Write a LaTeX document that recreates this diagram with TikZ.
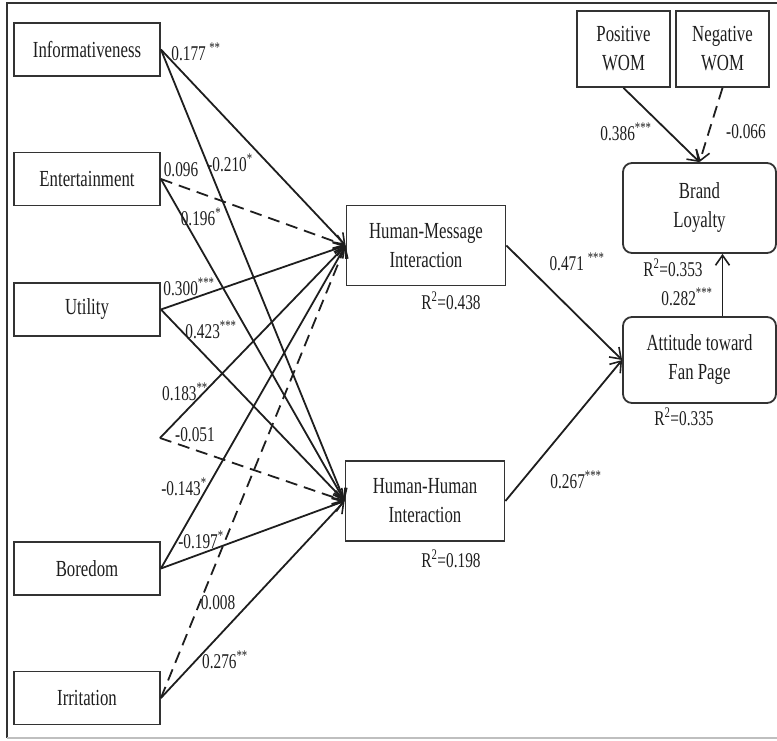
\documentclass[tikz,border=0pt]{standalone}
\usepackage{fontspec}
\setmainfont{Liberation Serif}[FakeStretch=0.73]
\usetikzlibrary{arrows.meta}
\definecolor{ink}{HTML}{1E1E1E}
\definecolor{rim}{HTML}{333333}
\tikzset{
  box/.style={draw=rim, line width=1.8pt, inner sep=0pt, align=center, text=ink,
    font=\fontsize{23}{29}\selectfont},
  srcbox/.style={box, minimum width=146pt, minimum height=53pt},
  midbox/.style={box, minimum width=159pt, minimum height=80pt},
  outbox/.style={box, rounded corners=9pt, minimum width=153pt},
  womb/.style={box, minimum width=93pt, minimum height=76pt},
  path/.style={draw=ink, line width=1.8pt, -{Straight Barb[length=10pt,width=14pt,line width=1.6pt]}},
  nspath/.style={path, dash pattern=on 12pt off 7pt},
  coef/.style={inner sep=0pt, text=ink, font=\fontsize{21}{25}\selectfont},
}
\begin{document}
\begin{tikzpicture}[x=1pt, y=-1pt]
  \useasboundingbox (0,0) rectangle (777,741);
  % frame
  \draw[rim, line width=1.3pt] (777,3) -- (7,3) -- (7,738);
  \draw[black!25, line width=1.3pt] (7,738) -- (777,738);

  % antecedents
  \node[srcbox] (inf) at (87,49.5) {Informativeness};
  \node[srcbox] (ent) at (87,179) {Entertainment};
  \node[srcbox] (uti) at (87,309.5) {Utility};
  \node[srcbox] (bor) at (87,568.5) {Boredom};
  \node[srcbox] (irr) at (87,698) {Irritation};
  \coordinate (kink) at (160,438);

  % mediators
  \node[midbox] (hm) at (426,245.5) {Human-Message\\Interaction};
  \node[midbox] (hh) at (425,501) {Human-Human\\Interaction};

  % outcomes
  \node[outbox, minimum height=90pt] (bl) at (699.5,208) {Brand\\Loyalty};
  \node[outbox, minimum height=86pt] (att) at (699.5,360) {Attitude toward\\Fan Page};
  \node[womb] (pw) at (623.5,49) {Positive\\WOM};
  \node[womb] (nw) at (722.5,49) {Negative\\WOM};

  % paths into Human-Message Interaction
  \draw[path]   (inf.east) -- (hm.west);
  \draw[nspath] (ent.east) -- (hm.west);
  \draw[path]   (uti.east) -- (hm.west);
  \draw[path]   (kink) -- (hm.west);
  \draw[path]   (bor.east) -- (hm.west);
  \draw[nspath] (irr.east) -- (hm.west);

  % paths into Human-Human Interaction
  \draw[path]   (inf.east) -- (hh.west);
  \draw[path]   (ent.east) -- (hh.west);
  \draw[path]   (uti.east) -- (hh.west);
  \draw[nspath] (kink) -- (hh.west);
  \draw[path]   (bor.east) -- (hh.west);
  \draw[path]   (irr.east) -- (hh.west);

  % downstream paths
  \draw[path] (hm.east) -- (att.west);
  \draw[path] (hh.east) -- (att.west);
  \draw[path] (att.north -| nw.south) -- (bl.south -| nw.south);
  \draw[path] (pw.south) -- (bl.north);
  \draw[nspath] (nw.south) -- (bl.north);

  % coefficients
  \node[coef] (c1)  at (196,52)  {0.177\,\textsuperscript{**}};
  \node[coef] (c2)  at (230,163) {-0.210\textsuperscript{*}};
  \node[coef] (c3)  at (181,170) {0.096};
  \node[coef] (c4)  at (201,217) {0.196\textsuperscript{*}};
  \node[coef] (c5)  at (189,287) {0.300\textsuperscript{***}};
  \node[coef] (c6)  at (211,330) {0.423\textsuperscript{***}};
  \node[coef] (c7)  at (185,392) {0.183\textsuperscript{**}};
  \node[coef] (c8)  at (195,435) {-0.051};
  \node[coef] (c9)  at (184,487) {-0.143\textsuperscript{*}};
  \node[coef] (c10) at (201,540) {-0.197\textsuperscript{*}};
  \node[coef] (c11) at (218,603) {0.008};
  \node[coef] (c12) at (225,660) {0.276\textsuperscript{**}};
  \node[coef] (c13) at (577,262) {0.471 \textsuperscript{***}};
  \node[coef] (c14) at (576,480) {0.267\textsuperscript{***}};
  \node[coef] (c15) at (687,297) {0.282\textsuperscript{***}};
  \node[coef] (c16) at (626,132) {0.386\textsuperscript{***}};
  \node[coef] (c17) at (746,132) {-0.066};

  % explained variance
  \node[coef] (r1) at (451,301) {R\textsuperscript{2}=0.438};
  \node[coef] (r2) at (451,559) {R\textsuperscript{2}=0.198};
  \node[coef] (r3) at (673,268) {R\textsuperscript{2}=0.353};
  \node[coef] (r4) at (684,417) {R\textsuperscript{2}=0.335};
\end{tikzpicture}
\end{document}
